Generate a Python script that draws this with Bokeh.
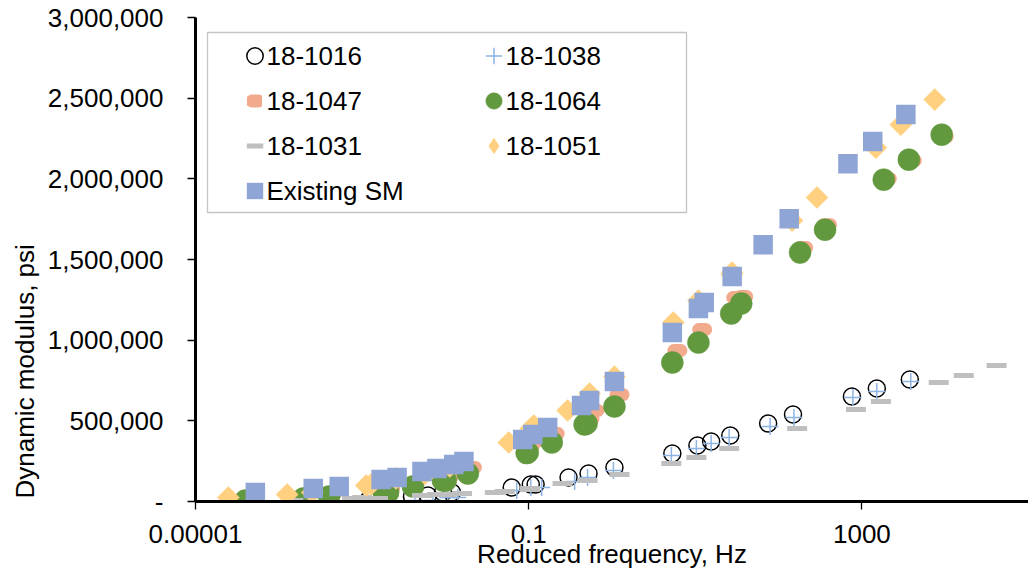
import math
from bokeh.plotting import figure
from bokeh.models import (Range1d, FixedTicker, CustomJSTickFormatter, Legend, LegendItem,
                          BoxAnnotation, Title, Label, CDSView, IndexFilter, ColumnDataSource)
from bokeh.embed import file_html
from bokeh.resources import INLINE

# ---------------- data ----------------
x_ticks = [0.00001, 0.1, 1000]
x_tick_labels = ["0.00001", "0.1", "1000"]
y_ticks = [0, 500000, 1000000, 1500000, 2000000, 2500000, 3000000]

freq_1016 = [3760, 1510, 759, 149, 74.9, 15.5, 26.3, 10.6, 5.30, 1.07, 0.523, 0.106,
             0.301, 0.121, 0.0626, 0.0120, 0.00617, 0.00118, 0.00934, 0.00397, 0.00194, 3.92e-4, 1.86e-4, 3.76e-5]
mod_1016 = [756000, 700000, 651000, 539000, 483000, 372000, 409000, 347000, 297000, 211000, 174000, 105000,
            149000, 105000, 87000, 56000, 37000, 6000, 56000, 31000, 6000, 3000, 2000, 2000]

freq_1038 = [3860, 1510, 780, 153, 79.1, 15.5, 25.5, 10.3, 5.16, 1.04, 0.509, 0.106,
             0.356, 0.143, 0.0718, 0.0141, 0.00709, 0.00151, 0.0107, 0.00431, 0.00217, 4.14e-4, 2.08e-4, 4.20e-5]
mod_1038 = [744000, 682000, 645000, 520000, 465000, 359000, 397000, 328000, 285000, 192000, 149000, 87000,
            124000, 87000, 68000, 25000, 6000, 3000, 25000, 6000, 5000, 3000, 2000, 2000]

freq_1047 = [9590, 3970, 1990, 381, 197, 37.6, 31.0, 12.1, 6.09, 1.23, 0.617, 0.125,
             0.538, 0.205, 0.103, 0.0208, 0.0104, 0.00205, 0.0110, 0.00431, 0.00217, 4.37e-4, 2.14e-4, 4.31e-5]
mod_1047 = [2262000, 2113000, 2001000, 1716000, 1574000, 1270000, 1264000, 1066000, 936000, 663000, 564000, 378000,
            514000, 421000, 341000, 211000, 155000, 80000, 155000, 118000, 80000, 50000, 37000, 25000]

freq_1064 = [9080, 3660, 1830, 361, 181, 35.6, 27.0, 10.9, 5.30, 1.07, 0.495, 0.0973,
             0.469, 0.189, 0.0946, 0.0186, 0.00934, 0.00183, 0.0101, 0.00408, 0.00205, 4.02e-4, 1.97e-4, 3.97e-5]
mod_1064 = [2274000, 2119000, 1995000, 1685000, 1543000, 1227000, 1165000, 985000, 861000, 589000, 483000, 304000,
            477000, 366000, 300000, 173000, 130000, 56000, 130000, 93000, 56000, 31000, 19000, 6000]

freq_1031 = [41400, 16700, 8360, 1690, 848, 167, 25.5, 10.3, 5.16, 1.23, 0.509, 0.103,
             0.255, 0.103, 0.0516, 0.0104, 0.00523, 0.00100, 0.0392, 0.0158, 0.00791, 0.00155, 7.59e-4, 1.49e-4]
mod_1031 = [843000, 781000, 737000, 620000, 570000, 452000, 329000, 273000, 235000, 167000, 130000, 81000,
            112000, 74000, 62000, 43000, 37000, 25000, 56000, 50000, 43000, 19000, 19000, 6000]

freq_1051 = [7490, 2930, 1470, 289, 145, 27.7, 27.4, 10.9, 5.45, 1.07, 0.538, 0.106,
             0.293, 0.115, 0.0576, 0.0113, 0.00568, 0.00112, 0.00652, 0.00255, 0.00128, 2.52e-4, 1.26e-4, 2.48e-5]
mod_1051 = [2491000, 2336000, 2193000, 1884000, 1741000, 1419000, 1406000, 1245000, 1109000, 774000, 669000, 452000,
            564000, 471000, 366000, 217000, 173000, 99000, 192000, 143000, 105000, 56000, 43000, 25000]

freq_sm = [5.23e-5, 2.59e-4, 5.31e-4, 1.69e-3, 2.63e-3, 5.23e-3, 7.91e-3, 0.0126, 0.0167, 0.0848, 0.112, 0.169,
           0.431, 0.538, 1.07, 5.30, 10.9, 12.8, 27.7, 65.2, 134, 680, 1350, 3370]
mod_sm = [56000, 81000, 93000, 136000, 149000, 186000, 204000, 229000, 248000, 384000, 415000, 459000,
          595000, 626000, 744000, 1047000, 1196000, 1233000, 1394000, 1592000, 1753000, 2094000, 2231000, 2398000]

# ---------------- figure ----------------
FONT = "Liberation Sans"
FS = "26px"

p = figure(width=1028, height=571, x_axis_type="log",
           x_range=Range1d(1e-5, 1e5), y_range=Range1d(0, 3000000),
           output_backend="svg", toolbar_location=None,
           min_border_left=195, min_border_right=0, min_border_top=17, min_border_bottom=70)
p.outline_line_color = None
p.grid.grid_line_color = None
p.background_fill_color = "white"
p.border_fill_color = "white"

xa = p.xaxis[0]
ya = p.yaxis[0]
xa.ticker = FixedTicker(ticks=x_ticks)
xa.formatter = CustomJSTickFormatter(args=dict(vals=x_ticks, labs=x_tick_labels), code="""
for (let i = 0; i < vals.length; i++) {
  if (Math.abs(Math.log10(tick) - Math.log10(vals[i])) < 1e-6) return labs[i];
}
return "";
""")
ya.ticker = FixedTicker(ticks=y_ticks)
ya.formatter = CustomJSTickFormatter(code=r"""
if (tick == 0) return "-";
return Math.round(tick).toString().replace(/\B(?=(\d{3})+(?!\d))/g, ",");
""")

for ax in (xa, ya):
    ax.axis_line_color = "black"
    ax.axis_line_width = 3
    ax.major_tick_line_color = "black"
    ax.major_tick_line_width = 1.3
    ax.major_tick_in = 0
    ax.major_tick_out = 8
    ax.minor_tick_line_color = None
    ax.major_label_text_font = FONT
    ax.major_label_text_font_size = FS
    ax.major_label_text_color = "black"

ya.major_label_standoff = 24
xa.major_label_standoff = 15
xa.axis_label = "Reduced frequency, Hz"
xa.axis_label_text_font = FONT
xa.axis_label_text_font_size = FS
xa.axis_label_text_font_style = "normal"
xa.axis_label_text_color = "black"
xa.axis_label_standoff = -7

p.add_layout(Title(text="Dynamic modulus, psi", align="left", offset=3,
                   text_font=FONT, text_font_size=FS, text_font_style="normal",
                   text_color="black", standoff=10), "left")

# ---------------- series ----------------
src_1051 = ColumnDataSource(dict(x=freq_1051, y=mod_1051))
# legend key for the diamonds (legend swatches ignore the marker angle);
# its single point sits hidden beneath the matching rotated-square marker
r1051_key = p.scatter(x="x", y="y", source=src_1051, view=CDSView(filter=IndexFilter(indices=[0])),
                      marker="diamond", size=15, fill_color="#FFD080", line_color=None)

r1016 = p.scatter(x=freq_1016, y=mod_1016, marker="circle", size=17,
                  fill_color=None, line_color="black", line_width=1.5)
r1038 = p.scatter(x=freq_1038, y=mod_1038, marker="cross", size=17,
                  line_color="#8DB4E2", line_width=1.5)
r1047 = p.scatter(x=freq_1047, y=mod_1047, marker="dash", size=7,
                  line_color="#F2AA8D", line_width=13, line_cap="round")
r1064 = p.scatter(x=freq_1064, y=mod_1064, marker="circle", size=22,
                  fill_color="#62993E", line_color="#62993E", line_width=0.5)
r1031 = p.scatter(x=freq_1031, y=mod_1031, marker="dash", size=20,
                  line_color="#BFBFBF", line_width=5)
r1051 = p.scatter(x="x", y="y", source=src_1051, marker="square", angle=math.pi / 4, size=16,
                  fill_color="#FFD080", line_color=None)
rsm = p.scatter(x=freq_sm, y=mod_sm, marker="square", size=19.5,
                fill_color="#8FA5D6", line_color=None)

# ---------------- legend ----------------
p.add_layout(BoxAnnotation(left=12, right=491, top=469, bottom=289,
                           left_units="screen", right_units="screen",
                           top_units="screen", bottom_units="screen",
                           fill_color="white", fill_alpha=1.0,
                           line_color="#404040", line_width=1.3))


def key_legend(renderers, loc, gw=41):
    # swatches only; the entry names are drawn as labels next to them
    return Legend(items=[LegendItem(label="", renderers=[r]) for r in renderers],
                  location=loc, orientation="vertical",
                  glyph_width=gw, glyph_height=41, spacing=4, padding=0, margin=0,
                  label_standoff=0, label_width=0, border_line_alpha=0, background_fill_alpha=0,
                  label_text_font=FONT, label_text_font_size=FS)


p.add_layout(key_legend([r1016], (38.5, 425.5)))
p.add_layout(key_legend([r1047], (51.5, 380.5), gw=15))
p.add_layout(key_legend([r1031, rsm], (38.5, 290.5)))
p.add_layout(key_legend([r1038, r1064, r1051_key], (277.5, 335.5)))

legend_names = [("18-1016", 71, 446), ("18-1038", 310, 446),
                ("18-1047", 71, 401), ("18-1064", 310, 401),
                ("18-1031", 71, 356), ("18-1051", 310, 356),
                ("Existing SM", 71, 311)]
for name, lx, ly in legend_names:
    p.add_layout(Label(x=lx, y=ly, x_units="screen", y_units="screen", text=name,
                       text_align="left", text_baseline="middle",
                       text_font=FONT, text_font_size=FS, text_color="black"))

open("out.html", "w").write(file_html(p, INLINE))
